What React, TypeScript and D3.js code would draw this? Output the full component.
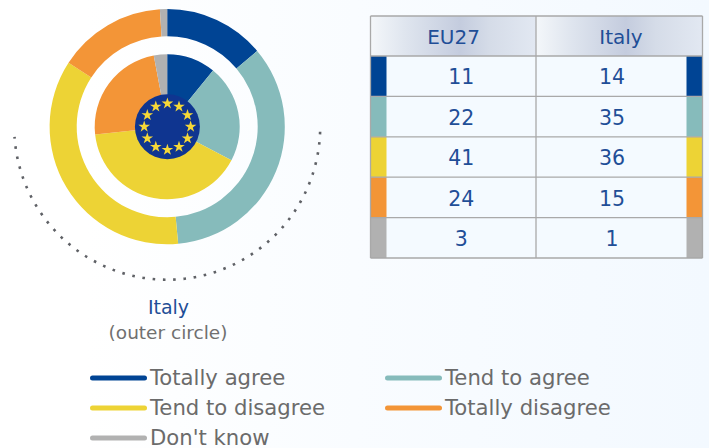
import React from "react";
import * as d3 from "d3";

const categories = ["Totally agree", "Tend to agree", "Tend to disagree", "Totally disagree", "Don't know"];
const colors = ["#004494", "#86BBBB", "#EDD335", "#F39537", "#B1B1B1"];
const eu27 = [11, 22, 41, 24, 3];
const italy = [14, 35, 36, 15, 1];
const columns = ["EU27", "Italy"];
const legendOrder = [[0, 1], [2, 3], [4]];

const W = 709, H = 448;
const cx = 167.2, cy = 126.7;
const font = "'DejaVu Sans', Verdana, sans-serif";
const pie = d3.pie<number>().sort(null);

function Ring({ values, r0, r1 }: { values: number[]; r0: number; r1: number }) {
  const arc = d3.arc<d3.PieArcDatum<number>>().innerRadius(r0).outerRadius(r1);
  return (
    <g transform={`translate(${cx},${cy})`}>
      {pie(values).map((d, i) => (
        <path key={i} d={arc(d) || ""} fill={colors[i]} />
      ))}
    </g>
  );
}

function Flag() {
  const star = d3.symbol().type(d3.symbolStar).size(42)() || "";
  const angle = d3.scaleLinear().domain([0, 12]).range([0, 2 * Math.PI]);
  return (
    <g transform={`translate(${cx + 0.2},${cy})`}>
      <circle r={32.5} fill="#0F3590" />
      {d3.range(12).map((i) => (
        <path
          key={i}
          d={star}
          fill="#F5D838"
          transform={`translate(${23.2 * Math.sin(angle(i))},${-23.2 * Math.cos(angle(i))})`}
        />
      ))}
    </g>
  );
}

export default function App() {
  const x0 = 370.5, x1 = 536, x2 = 702.5;
  const rowY = d3.scaleLinear().domain([0, 5]).range([56, 258]);
  const headTop = 16;
  const dotted = d3.path();
  dotted.arc(0, 0, 153, (1.9 * Math.PI) / 180, (176.2 * Math.PI) / 180, false);
  return (
    <svg
      width={W}
      height={H}
      viewBox={`0 0 ${W} ${H}`}
      style={{ position: "absolute", left: 0, top: 0, display: "block" }}
      fontFamily={font}
    >
      <defs>
        <linearGradient id="bg" x1="0" x2="1" y1="0" y2="0">
          <stop offset="0.12" stopColor="#FFFFFF" />
          <stop offset="0.5" stopColor="#F9FCFF" />
          <stop offset="1" stopColor="#F3F9FF" />
        </linearGradient>
        <linearGradient id="head" x1="0" x2="1" y1="0" y2="0">
          <stop offset="0" stopColor="#F4F7FA" />
          <stop offset="0.2" stopColor="#E0E6EF" />
          <stop offset="0.54" stopColor="#C4CCDE" />
          <stop offset="0.72" stopColor="#D5DCE8" />
          <stop offset="1" stopColor="#E2E8F2" />
        </linearGradient>
      </defs>
      <rect width={W} height={H} fill="url(#bg)" />

      <Ring values={italy} r0={90.5} r1={117.6} />
      <Ring values={eu27} r0={30} r1={72.5} />
      <Flag />

      <path
        d={dotted.toString()}
        transform={`translate(${cx},${cy})`}
        fill="none"
        stroke="#5F6166"
        strokeWidth={2.6}
        strokeDasharray="2.6 7.7"
      />

      <text x={168.5} y={314} textAnchor="middle" fontSize={19} fill="#1F4E97">Italy</text>
      <text x={168} y={339} textAnchor="middle" fontSize={18.5} fill="#707070">(outer circle)</text>

      {/* table */}
      <rect x={x0} y={headTop} width={x1 - x0} height={rowY(0) - headTop} fill="url(#head)" />
      <rect x={x1} y={headTop} width={x2 - x1} height={rowY(0) - headTop} fill="url(#head)" />
      <rect x={x0} y={rowY(0)} width={x2 - x0} height={rowY(5) - rowY(0)} fill="#F4FAFF" />
      {categories.map((c, i) => (
        <g key={c}>
          <rect x={x0} y={rowY(i)} width={16} height={rowY(i + 1) - rowY(i)} fill={colors[i]} />
          <rect x={x2 - 16} y={rowY(i)} width={16} height={rowY(i + 1) - rowY(i)} fill={colors[i]} />
          <text x={461.3} y={rowY(i) + 28.3} textAnchor="middle" fontSize={20.5} fill="#1F4E97">{eu27[i]}</text>
          <text x={612} y={rowY(i) + 28.3} textAnchor="middle" fontSize={20.5} fill="#1F4E97">{italy[i]}</text>
        </g>
      ))}
      {d3.range(6).map((i) => (
        <line key={i} x1={x0} x2={x2} y1={rowY(i)} y2={rowY(i)} stroke="#A9A9A9" strokeWidth={1.3} />
      ))}
      <line x1={x0} x2={x2} y1={headTop} y2={headTop} stroke="#A9A9A9" strokeWidth={1.3} />
      {[x0, x1, x2].map((x) => (
        <line key={x} x1={x} x2={x} y1={headTop} y2={rowY(5)} stroke="#A9A9A9" strokeWidth={1.3} />
      ))}
      <text x={453.5} y={44} textAnchor="middle" fontSize={20} fill="#1F4E97">{columns[0]}</text>
      <text x={621} y={44} textAnchor="middle" fontSize={20} fill="#1F4E97">{columns[1]}</text>

      {/* legend */}
      {legendOrder.map((row, r) =>
        row.map((k, c) => {
          const lx = 92.5 + c * 295;
          const ly = 378 + r * 30;
          return (
            <g key={k}>
              <line x1={lx} x2={lx + 52} y1={ly} y2={ly} stroke={colors[k]} strokeWidth={5} strokeLinecap="round" />
              <text x={lx + 57.5} y={ly + 7} fontSize={21.2} fill="#6B6B6B">{categories[k]}</text>
            </g>
          );
        })
      )}
    </svg>
  );
}
